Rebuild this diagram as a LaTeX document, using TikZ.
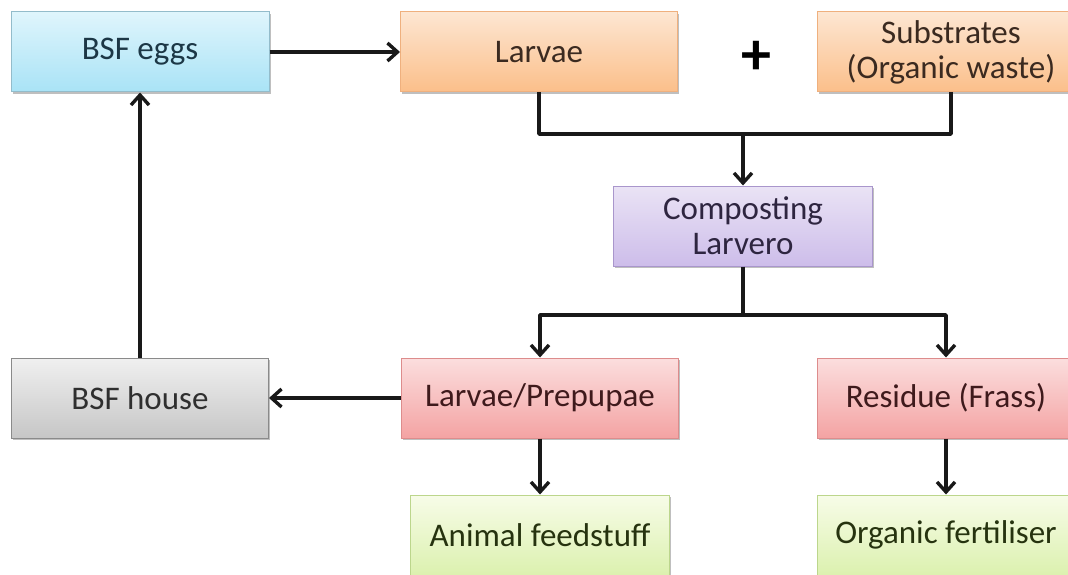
\documentclass[tikz,border=0pt]{standalone}
\usepackage{fontspec}
\setmainfont{Carlito}
\usetikzlibrary{arrows.meta,shadows}
\definecolor{eggT}{HTML}{DFF5FC}\definecolor{eggB}{HTML}{A9E3F6}\definecolor{eggD}{HTML}{93BCCB}\definecolor{eggX}{HTML}{1C3746}
\definecolor{orT}{HTML}{FDE6D2}\definecolor{orB}{HTML}{FBBF8A}\definecolor{orD}{HTML}{EFB07E}\definecolor{orX}{HTML}{3B2A20}
\definecolor{puT}{HTML}{EAE3F5}\definecolor{puB}{HTML}{CDBDEA}\definecolor{puD}{HTML}{A996CC}\definecolor{puX}{HTML}{2E2540}
\definecolor{grT}{HTML}{F0F0F0}\definecolor{grB}{HTML}{C6C6C6}\definecolor{grD}{HTML}{8A8A8A}\definecolor{grX}{HTML}{2F2F2F}
\definecolor{reT}{HTML}{FBDEDE}\definecolor{reB}{HTML}{F4A3A3}\definecolor{reD}{HTML}{DD8C8C}\definecolor{reX}{HTML}{3F1A1C}
\definecolor{gnT}{HTML}{F7FCE8}\definecolor{gnB}{HTML}{DCF1AF}\definecolor{gnD}{HTML}{BCD68C}\definecolor{gnX}{HTML}{26330F}
\tikzset{
  flowbox/.style={rectangle, minimum height=80pt, inner sep=0pt, align=center,
    font=\fontsize{33}{35}\selectfont, line width=1pt,
    drop shadow={shadow xshift=1.5pt, shadow yshift=-2pt, fill=black, opacity=0.25}},
  eggbox/.style={flowbox, top color=eggT, bottom color=eggB, draw=eggD, text=eggX},
  orbox/.style={flowbox, top color=orT, bottom color=orB, draw=orD, text=orX},
  pubox/.style={flowbox, top color=puT, bottom color=puB, draw=puD, text=puX},
  grbox/.style={flowbox, top color=grT, bottom color=grB, draw=grD, text=grX},
  rebox/.style={flowbox, top color=reT, bottom color=reB, draw=reD, text=reX},
  gnbox/.style={flowbox, top color=gnT, bottom color=gnB, draw=gnD, text=gnX},
  conn/.style={line width=3.4pt, line join=round, draw=black!90},
  arrconn/.style={conn, -{Straight Barb[length=10pt,width=18pt]}}
}
\begin{document}
\begin{tikzpicture}[x=1pt,y=-1pt]
\useasboundingbox (0,0) rectangle (1068,575);
\node[eggbox, minimum width=258pt] (eggs) at (140,52) {BSF eggs};
\node[orbox, minimum width=277pt] (larvae) at (539,52) {Larvae};
\node[orbox, minimum width=268pt] (subs) at (951,52) {Substrates\\(Organic waste)};
\node[font=\fontsize{60}{60}\selectfont\bfseries, inner sep=0pt] (plus) at (756,58) {+};
\node[pubox, minimum width=259pt] (comp) at (743,226) {Composting\\Larvero};
\node[grbox, minimum width=257pt] (house) at (140,398) {BSF house};
\node[rebox, minimum width=277pt] (lp) at (540,398) {Larvae/Prepupae};
\node[rebox, minimum width=258pt] (res) at (946,398) {Residue (Frass)};
\node[gnbox, minimum width=259pt] (feed) at (540,535) {Animal feedstuff};
\node[gnbox, minimum width=258pt] (fert) at (946,535) {Organic fertiliser};
\coordinate (j1) at (743,134);
\coordinate (j2) at (743,315);
\draw[arrconn] (eggs.east) -- (larvae.west);
\draw[conn] (larvae.south) |- (j1) -| (subs.south);
\draw[arrconn] (j1) -- (comp.north);
\draw[conn] (comp.south) -- (j2);
\draw[arrconn] (j2) -| (lp.north);
\draw[arrconn] (j2) -| (res.north);
\draw[arrconn] (lp.west) -- (house.east);
\draw[arrconn] (house.north) -- (eggs.south);
\draw[arrconn] (lp.south) -- (feed.north);
\draw[arrconn] (res.south) -- (fert.north);
\end{tikzpicture}
\end{document}
